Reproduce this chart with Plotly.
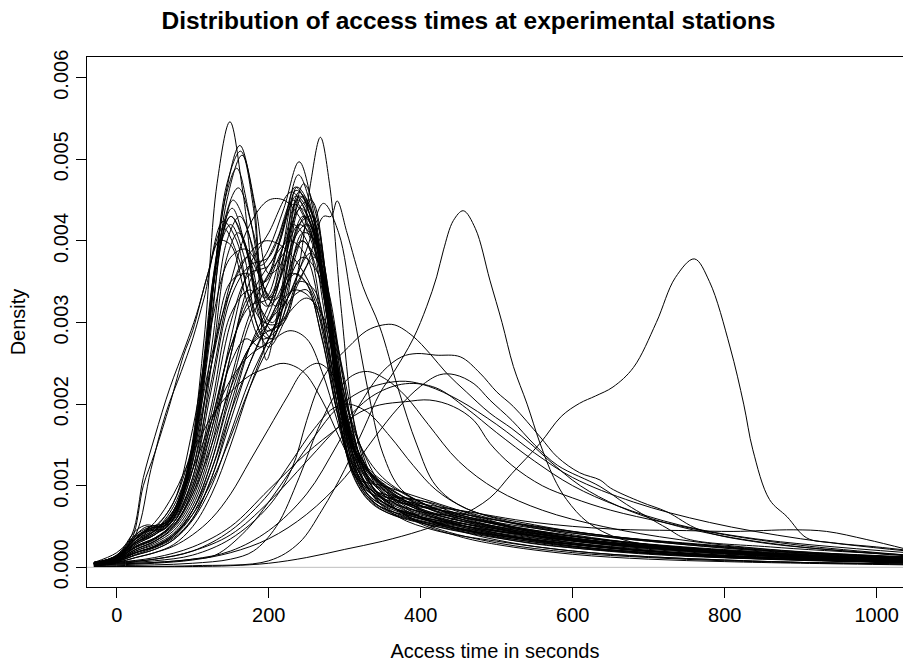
import plotly.graph_objects as go

# ---------------- data ----------------
title_text = "Distribution of access times at experimental stations"
x_label = "Access time in seconds"
y_label = "Density"

x_tick_values = [0, 200, 400, 600, 800, 1000]
x_tick_labels = ["0", "200", "400", "600", "800", "1000"]
y_tick_values = [0.000, 0.001, 0.002, 0.003, 0.004, 0.005, 0.006]
y_tick_labels = ["0.000", "0.001", "0.002", "0.003", "0.004", "0.005", "0.006"]

# every curve: list of (access time in s, density in units of 1e-5)
DENSITY_UNIT = 1e-5

shoulder_curves = [
    [(-30,5),(0,15),(20,40),(35,110),(50,160),(70,220),(90,270),(105,310),(120,360),(140,424),(158,400),(175,330),(195,300),(215,330),(235,360),(255,340),(275,270),(295,180),(320,110),(350,85),(400,68),(450,55),(500,45),(600,32),(700,23),(800,17),(900,12),(1040,8)],
    [(-30,5),(0,14),(20,35),(35,100),(50,140),(70,200),(88,260),(100,290),(120,360),(140,416),(160,380),(180,310),(200,270),(220,300),(240,350),(260,340),(280,260),(300,170),(325,100),(360,75),(400,60),(450,48),(500,38),(600,25),(700,17),(800,12),(900,9),(1040,6)],
    [(-30,5),(0,12),(25,40),(45,120),(65,190),(85,240),(100,280),(115,330),(135,400),(150,395),(170,330),(190,280),(210,290),(230,330),(250,340),(270,280),(290,190),(315,115),(345,82),(400,62),(450,52),(500,44),(600,34),(700,27),(800,21),(900,16),(1040,11)],
]

early_curves = [
    [(-30,6),(0,18),(25,40),(40,50),(55,48),(75,70),(95,130),(115,280),(132,470),(149,546),(166,460),(185,330),(205,290),(225,360),(245,400),(265,360),(285,260),(305,175),(330,120),(360,88),(400,70),(450,58),(500,50),(600,38),(700,28),(800,20),(900,14),(1040,9)],
    [(-30,5),(0,15),(25,45),(40,52),(55,50),(75,65),(95,120),(115,240),(140,440),(162,517),(180,450),(197,330),(212,330),(232,400),(250,420),(270,350),(290,240),(310,150),(335,100),(370,70),(420,48),(500,30),(600,18),(700,12),(800,8),(900,6),(1040,4)],
    [(-30,5),(0,12),(25,35),(45,45),(60,45),(80,70),(100,140),(120,280),(145,470),(163,510),(180,440),(197,254),(215,330),(240,460),(258,420),(278,320),(298,200),(318,140),(345,105),(400,72),(450,60),(500,48),(600,30),(700,20),(800,14),(900,10),(1040,7)],
    [(-30,6),(0,14),(25,40),(45,50),(65,55),(85,90),(105,180),(125,330),(145,460),(158,489),(175,430),(195,340),(210,320),(230,390),(248,430),(265,390),(285,280),(305,160),(330,90),(370,70),(420,58),(500,44),(600,30),(700,22),(800,16),(900,12),(1040,8)],
    [(-30,5),(0,10),(25,28),(50,40),(75,65),(100,140),(120,270),(140,410),(153,450),(170,420),(190,350),(205,330),(222,390),(237,466),(255,440),(275,330),(295,200),(315,130),(340,95),(390,58),(450,38),(500,28),(600,16),(700,10),(800,7),(900,5),(1040,3)],
    [(-30,6),(0,12),(25,35),(50,45),(75,70),(100,150),(120,290),(138,410),(152,440),(170,390),(190,300),(205,280),(225,350),(245,410),(262,400),(280,320),(300,210),(320,150),(350,110),(400,80),(450,62),(520,46),(600,36),(700,26),(800,19),(900,14),(1040,10)],
    [(-30,5),(0,12),(25,38),(45,48),(65,52),(90,100),(110,210),(130,360),(150,430),(168,400),(188,320),(205,300),(222,340),(240,420),(258,430),(278,330),(298,200),(320,115),(350,88),(400,78),(450,70),(500,58),(600,40),(700,28),(800,20),(900,15),(1040,10)],
    [(-30,5),(0,10),(25,30),(50,42),(75,60),(100,110),(125,250),(145,380),(160,410),(178,370),(198,290),(215,300),(235,380),(252,420),(270,370),(290,250),(310,150),(335,90),(370,62),(420,45),(500,32),(600,20),(700,13),(800,9),(900,6),(1040,4)],
    [(-30,6),(0,13),(25,36),(45,46),(65,48),(90,95),(115,230),(135,390),(150,420),(168,380),(188,290),(204,280),(222,330),(242,400),(262,380),(282,280),(302,170),(325,125),(360,95),(420,72),(480,58),(560,42),(650,30),(780,20),(900,14),(1040,9)],
    [(-30,5),(0,11),(25,32),(50,44),(75,62),(100,120),(125,270),(145,400),(162,430),(180,390),(200,320),(220,350),(240,440),(256,450),(275,360),(295,220),(315,140),(340,105),(380,75),(440,55),(520,38),(620,26),(720,18),(850,12),(1040,7)],
    [(-30,5),(0,12),(25,34),(45,48),(65,52),(88,95),(110,220),(130,370),(150,430),(170,390),(195,300),(215,300),(240,350),(260,380),(280,320),(300,220),(320,135),(345,88),(390,70),(450,62),(520,50),(620,36),(720,26),(850,17),(1040,10)],
    [(-30,6),(0,13),(25,36),(45,50),(65,55),(88,100),(110,210),(135,400),(160,465),(180,410),(200,330),(218,360),(240,455),(258,430),(276,330),(296,200),(316,135),(342,100),(400,62),(460,45),(540,30),(650,20),(800,12),(1040,6)],
    [(-30,5),(0,11),(25,32),(45,46),(70,58),(95,110),(120,260),(145,450),(165,505),(183,440),(200,360),(215,370),(232,420),(250,400),(270,310),(290,200),(312,115),(340,78),(400,60),(460,50),(540,40),(650,28),(800,18),(900,13),(1040,9)],
]

mid_curves = [
    [(-30,4),(0,8),(25,20),(50,30),(75,45),(100,80),(125,150),(150,260),(175,350),(200,390),(220,440),(240,497),(258,440),(275,330),(295,200),(315,140),(340,100),(380,70),(450,45),(520,30),(600,20),(700,13),(800,9),(900,6),(1040,4)],
    [(-30,5),(0,10),(25,25),(50,35),(75,55),(100,100),(125,190),(150,300),(175,360),(200,370),(220,420),(239,481),(256,440),(275,320),(295,190),(318,130),(345,95),(400,70),(460,55),(540,40),(650,28),(800,18),(900,13),(1040,9)],
    [(-30,5),(0,11),(25,30),(50,40),(75,60),(100,120),(125,230),(150,340),(172,380),(195,350),(215,400),(235,466),(255,430),(275,320),(295,190),(315,110),(350,100),(400,85),(450,70),(520,50),(600,36),(720,24),(850,15),(1040,8)],
    [(-30,4),(0,9),(25,22),(50,32),(75,50),(100,90),(125,170),(150,280),(175,370),(200,410),(230,460),(255,420),(275,320),(295,190),(318,125),(350,95),(400,75),(460,60),(540,46),(650,32),(750,24),(900,15),(1040,10)],
    [(-30,5),(0,10),(25,26),(50,36),(75,52),(100,95),(125,180),(150,270),(175,320),(200,330),(225,400),(245,455),(262,420),(280,320),(300,190),(322,130),(355,95),(420,60),(500,40),(600,26),(700,18),(850,11),(1040,6)],
    [(-30,5),(0,12),(25,30),(50,42),(75,65),(100,130),(125,250),(150,350),(172,360),(195,330),(218,390),(238,450),(256,420),(276,310),(296,180),(318,100),(350,70),(420,50),(500,36),(600,24),(700,16),(850,10),(1040,5)],
    [(-30,5),(0,10),(25,25),(50,35),(75,55),(100,110),(125,220),(150,330),(175,370),(200,380),(233,445),(258,400),(278,300),(298,180),(320,105),(350,90),(400,82),(450,65),(520,48),(620,33),(750,22),(900,14),(1040,9)],
    [(-30,4),(0,8),(25,18),(50,26),(75,40),(100,70),(125,130),(150,220),(175,300),(200,350),(222,400),(242,440),(260,410),(280,310),(300,185),(322,130),(355,100),(420,68),(500,50),(600,34),(700,25),(800,18),(900,13),(1040,9)],
    [(-30,5),(0,11),(25,28),(50,40),(75,58),(100,105),(125,200),(150,310),(175,340),(198,320),(218,390),(236,462),(254,440),(272,350),(292,220),(312,130),(340,90),(400,62),(460,46),(540,35),(650,24),(800,15),(1040,7)],
    [(-30,4),(0,7),(25,16),(50,24),(75,36),(100,60),(125,110),(150,190),(175,270),(200,320),(225,380),(245,430),(265,400),(285,300),(305,180),(328,125),(360,100),(430,68),(520,50),(620,36),(720,27),(850,19),(1040,11)],
    [(-30,6),(0,14),(25,38),(50,50),(75,80),(100,170),(125,300),(150,380),(170,390),(190,370),(210,400),(232,450),(252,420),(272,320),(292,190),(312,110),(340,75),(400,55),(480,40),(580,28),(700,18),(850,11),(1040,6)],
    [(-30,4),(0,9),(25,20),(50,28),(75,42),(100,75),(125,140),(150,230),(175,310),(200,360),(220,385),(240,420),(260,400),(280,300),(300,185),(322,110),(350,85),(400,75),(450,66),(550,50),(650,38),(800,26),(900,19),(1040,13)],
    [(-30,4),(0,8),(25,18),(50,25),(75,38),(100,65),(125,120),(150,200),(175,270),(200,310),(225,390),(246,470),(263,430),(280,320),(298,190),(320,130),(350,100),(420,62),(500,42),(600,26),(700,18),(850,11),(1040,6)],
    [(-30,5),(0,10),(25,26),(50,36),(75,55),(100,100),(125,180),(150,270),(175,330),(200,370),(228,400),(250,380),(270,300),(290,190),(310,120),(335,90),(370,85),(410,80),(460,65),(550,42),(700,24),(900,12),(1040,7)],
    [(-30,5),(0,9),(25,22),(50,32),(75,48),(100,85),(125,160),(150,260),(172,330),(195,350),(215,400),(236,455),(255,430),(273,340),(293,210),(313,140),(340,110),(390,80),(470,55),(560,40),(680,28),(850,18),(1040,10)],
    [(-30,4),(0,7),(25,15),(50,22),(75,34),(100,58),(125,100),(150,165),(175,230),(200,280),(225,330),(255,385),(275,350),(295,250),(315,150),(340,95),(380,78),(440,68),(520,55),(650,38),(800,25),(900,18),(1040,12)],
    [(-30,5),(0,12),(25,30),(50,45),(75,75),(100,140),(125,250),(150,350),(175,420),(200,450),(220,450),(240,430),(260,390),(280,320),(300,230),(320,150),(345,95),(380,72),(450,55),(520,42),(620,30),(750,20),(900,12),(1040,7)],
    [(-30,5),(0,12),(25,32),(50,48),(75,80),(100,150),(125,260),(150,340),(175,385),(195,400),(215,395),(240,370),(262,330),(282,270),(302,190),(322,120),(350,80),(400,64),(480,50),(560,38),(680,26),(850,16),(1040,9)],
]

late_peak_curves = [
    [(-30,4),(0,8),(25,18),(50,25),(75,38),(100,70),(125,130),(150,210),(175,270),(200,290),(220,300),(240,370),(255,470),(268,527),(280,470),(295,320),(312,180),(330,120),(360,90),(420,65),(500,48),(600,33),(700,24),(800,17),(900,12),(1040,8)],
    [(-30,3),(0,6),(25,12),(50,18),(75,28),(100,50),(125,90),(150,150),(175,220),(200,280),(225,330),(250,370),(272,430),(282,430),(290,449),(303,410),(324,344),(346,295),(370,220),(395,150),(420,100),(460,72),(550,52),(650,38),(800,25),(900,18),(1040,12)],
    [(-30,3),(0,7),(25,15),(50,22),(75,34),(100,60),(125,110),(150,180),(175,250),(200,300),(225,330),(250,390),(272,446),(292,410),(310,320),(330,220),(350,140),(375,95),(420,72),(500,55),(600,42),(700,32),(850,20),(1040,12)],
]

low_peak_curves = [
    [(-30,4),(0,8),(25,18),(50,26),(75,40),(100,70),(125,120),(150,190),(175,250),(200,300),(225,350),(245,380),(265,360),(285,280),(305,170),(328,100),(360,70),(430,50),(580,30),(800,14),(1040,6)],
    [(-30,5),(0,10),(25,24),(50,34),(75,52),(100,90),(125,150),(150,220),(175,270),(200,300),(220,330),(235,340),(255,330),(275,280),(295,190),(315,115),(345,75),(420,52),(560,32),(800,14),(1040,6)],
    [(-30,4),(0,8),(25,18),(50,26),(75,40),(100,65),(125,105),(150,160),(175,220),(200,270),(225,310),(250,330),(270,310),(290,250),(310,170),(330,110),(360,75),(430,52),(580,30),(800,14),(1040,6)],
    [(-30,5),(0,12),(25,30),(50,45),(75,70),(100,120),(125,180),(150,230),(175,260),(200,275),(228,290),(250,280),(270,240),(290,180),(310,120),(335,85),(380,65),(450,50),(600,30),(800,14),(1040,6)],
    [(-30,3),(0,6),(25,12),(50,18),(75,26),(100,40),(125,60),(150,90),(175,130),(200,170),(225,210),(245,240),(265,250),(285,235),(305,190),(325,140),(350,100),(390,78),(450,70),(550,55),(650,47),(750,45),(811,44),(890,46),(934,44),(987,34),(1040,22)],
    [(-30,5),(0,10),(25,22),(50,32),(75,50),(100,95),(125,170),(150,250),(170,280),(190,270),(210,300),(228,360),(248,350),(268,290),(288,200),(308,125),(335,82),(390,60),(480,44),(650,24),(900,10),(1040,6)],
    [(-30,6),(0,14),(25,35),(50,55),(75,90),(100,140),(125,185),(150,215),(175,235),(200,245),(220,250),(245,240),(270,205),(295,155),(320,110),(350,80),(400,62),(480,50),(600,35),(800,18),(1040,9)],
    [(-30,3),(0,6),(50,10),(100,20),(150,45),(200,90),(230,130),(260,170),(285,195),(305,200),(330,190),(360,160),(390,125),(420,95),(460,72),(520,55),(600,42),(700,32),(800,24),(900,18),(1040,12)],
]

broad_curves = [
    [(-30,3),(0,5),(50,8),(100,15),(150,35),(200,75),(230,120),(250,180),(265,220),(281,246),(305,270),(329,290),(350,297),(366,297),(390,283),(412,262),(434,238),(460,215),(491,189),(520,170),(544,152),(570,130),(610,100),(660,75),(720,55),(800,38),(900,25),(1040,14)],
    [(-30,2),(0,4),(50,6),(100,10),(150,20),(200,45),(250,90),(290,150),(320,200),(350,240),(375,258),(395,262),(420,260),(452,258),(478,238),(500,215),(522,197),(557,160),(580,135),(609,116),(636,107),(650,97),(690,80),(724,68),(767,46),(850,30),(1040,15)],
    [(-30,2),(0,3),(50,5),(100,9),(150,18),(200,35),(250,65),(300,110),(340,160),(370,195),(400,222),(425,236),(445,236),(470,225),(491,205),(520,180),(550,150),(580,125),(636,99),(671,77),(724,48),(750,35),(860,25),(1040,15)],
    [(-30,3),(0,6),(50,12),(100,25),(150,50),(200,95),(250,140),(290,170),(320,190),(346,199),(380,203),(412,205),(443,197),(470,180),(491,152),(520,125),(560,100),(600,85),(650,70),(720,55),(800,40),(900,27),(1040,15)],
    [(-30,3),(0,5),(50,10),(100,20),(150,40),(200,80),(250,130),(300,180),(340,212),(380,225),(420,220),(460,195),(500,165),(550,130),(600,100),(660,75),(740,52),(840,35),(1040,18)],
    [(-30,2),(0,4),(50,6),(100,10),(130,15),(170,45),(200,80),(230,120),(260,160),(290,195),(320,215),(350,225),(380,228),(410,222),(450,205),(500,175),(550,140),(600,110),(680,80),(780,55),(900,35),(1040,20)],
    [(-30,1),(0,2),(50,3),(100,5),(150,10),(180,20),(210,50),(240,110),(265,170),(290,215),(310,235),(330,240),(355,230),(380,210),(410,175),(450,130),(500,95),(560,70),(640,50),(740,34),(860,22),(1040,12)],
]

special_curves = [
    [(-30,1),(0,1),(100,2),(200,8),(240,30),(270,70),(300,120),(325,170),(346,213),(365,240),(390,280),(408,320),(421,356),(430,389),(443,425),(456,437),(472,415),(491,352),(507,300),(522,246),(540,200),(557,152),(575,110),(592,83),(620,55),(662,35),(720,25),(800,18),(900,12),(1040,7)],
    [(-30,1),(0,1),(100,1),(150,2),(200,5),(250,12),(300,22),(350,32),(400,45),(450,62),(491,85),(520,115),(557,152),(585,185),(609,201),(630,210),(653,221),(680,245),(710,300),(735,355),(760,378),(780,350),(807,270),(825,200),(837,144),(859,83),(882,62),(908,36),(943,30),(1000,25),(1040,21)],
]

all_curves = (shoulder_curves + early_curves + mid_curves + late_peak_curves
              + low_peak_curves + broad_curves + special_curves)

# ---------------- figure ----------------
fig = go.Figure()
for curve in all_curves:
    fig.add_trace(go.Scatter(
        x=[p[0] for p in curve],
        y=[p[1] * DENSITY_UNIT for p in curve],
        mode="lines",
        line=dict(color="black", width=1, shape="spline", smoothing=1.0),
        hoverinfo="skip",
        showlegend=False,
    ))

# zero line (gray) across the whole plotting region
fig.add_shape(type="line", xref="paper", yref="y", x0=0, x1=1, y0=0, y1=0,
              line=dict(color="#BEBEBE", width=1), layer="below")

FONT = "Liberation Sans, Arial, Helvetica, sans-serif"

fig.update_layout(
    width=903, height=662,
    margin=dict(l=87, r=0, t=57, b=75, pad=0),
    paper_bgcolor="white", plot_bgcolor="white",
    font=dict(family=FONT, size=20, color="black"),
    title=dict(text=title_text, font=dict(family=FONT, size=24.5, color="black", weight="bold"),
               xref="container", yref="container", x=0.5188, xanchor="center",
               y=1 - 20 / 662, yanchor="middle"),
    showlegend=False,
    hovermode=False,
)

fig.update_xaxes(
    range=[-39.1, 1034.6],
    tickmode="array", tickvals=x_tick_values, ticktext=x_tick_labels,
    ticks="outside", ticklen=10, tickwidth=1, tickcolor="black",
    showline=True, linecolor="black", linewidth=1, mirror=True,
    showgrid=False, zeroline=False,
    tickfont=dict(family=FONT, size=20, color="black"),
    title=dict(text=x_label, font=dict(family=FONT, size=20, color="black"), standoff=18),
)
fig.update_yaxes(
    range=[-0.000241, 0.006254],
    tickmode="array", tickvals=y_tick_values, ticktext=y_tick_labels,
    tickangle=-90,
    ticks="outside", ticklen=10, tickwidth=1, tickcolor="black",
    showline=True, linecolor="black", linewidth=1, mirror=False,
    showgrid=False, zeroline=False,
    tickfont=dict(family=FONT, size=20, color="black"),
    title=dict(text=y_label, font=dict(family=FONT, size=20, color="black"), standoff=19),
)

fig.write_html("out.html")
